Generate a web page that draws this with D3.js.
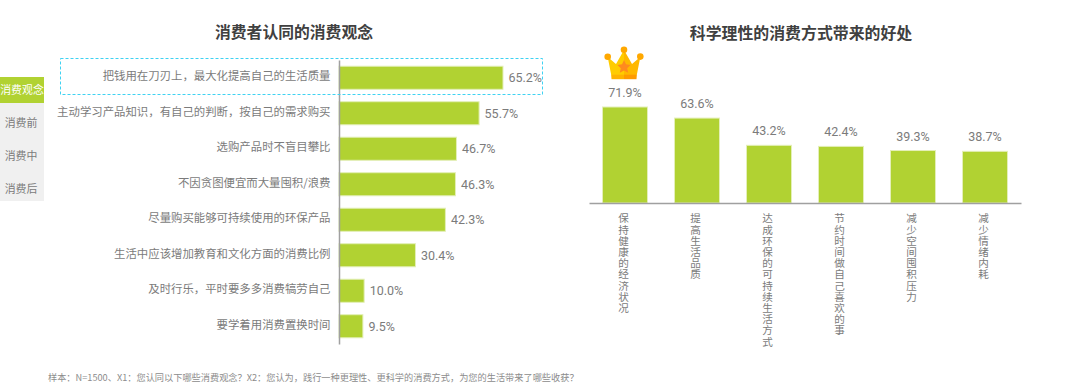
<!DOCTYPE html>
<html>
<head>
<meta charset="utf-8">
<script src="https://cdn.jsdelivr.net/npm/d3@7"></script>
<style>
  html, body { margin: 0; padding: 0; background: #fff; }
  text { font-family: "Noto Sans CJK SC", "Noto Sans", sans-serif; }
  text.value { font-family: Roboto, "Noto Sans", sans-serif; }
</style>
</head>
<body>
<svg id="chart"></svg>
<script>
// Data
const leftTitle = "消费者认同的消费观念";
const rightTitle = "科学理性的消费方式带来的好处";
const tabs = ["消费观念", "消费前", "消费中", "消费后"];
const leftCategories = [
  "把钱用在刀刃上，最大化提高自己的生活质量",
  "主动学习产品知识，有自己的判断，按自己的需求购买",
  "选购产品时不盲目攀比",
  "不因贪图便宜而大量囤积/浪费",
  "尽量购买能够可持续使用的环保产品",
  "生活中应该增加教育和文化方面的消费比例",
  "及时行乐，平时要多多消费犒劳自己",
  "要学着用消费置换时间"
];
const leftValues = [65.2, 55.7, 46.7, 46.3, 42.3, 30.4, 10.0, 9.5];
const rightCategories = [
  "保持健康的经济状况",
  "提高生活品质",
  "达成环保的可持续生活方式",
  "节约时间做自己喜欢的事",
  "减少空间囤积压力",
  "减少情绪内耗"
];
const rightValues = [71.9, 63.6, 43.2, 42.4, 39.3, 38.7];
const footnote = "样本：N=1500、X1：您认同以下哪些消费观念？X2：您认为，践行一种更理性、更科学的消费方式，为您的生活带来了哪些收获？";

const green = "#b1d232";
const barEdge = "#e4efb8";
const textGrey = "#7b7b7b";
const axisGrey = "#a0a0a0";

var svg = d3.select("#chart")
  .attr("width", 1080)
  .attr("height", 386)
  .style("display", "block");

// Side tabs: the labels sit on an even pitch, the backgrounds do not quite follow it
var tabY = d3.scaleBand().domain(tabs).range([74, 206]);
svg.append("rect")
  .attr("x", 0).attr("y", 103).attr("width", 44).attr("height", 98)
  .attr("fill", "#f0f0f0");
svg.append("rect")
  .attr("x", 0).attr("y", 77).attr("width", 44).attr("height", 26)
  .attr("fill", green);
svg.append("g")
  .selectAll("text")
  .data(tabs)
  .join("text")
  .attr("x", (d, i) => i == 0 ? 22 : 21)
  .attr("y", d => tabY(d) + tabY.bandwidth() / 2)
  .attr("dy", "0.35em")
  .attr("text-anchor", "middle")
  .attr("font-size", 10.9)
  .attr("fill", (d, i) => i == 0 ? "#fff" : textGrey)
  .text(d => d);

// Left chart
var xLeft = d3.scaleLinear().domain([0, 65.2]).range([339, 503]);
var yLeft = d3.scaleBand().domain(leftCategories).range([60, 344])
  .paddingInner(0.35).paddingOuter(0.175);

svg.append("text")
  .attr("x", 294).attr("y", 38)
  .attr("text-anchor", "middle")
  .attr("font-size", 15.8).attr("font-weight", 700)
  .attr("fill", "#404040")
  .text(leftTitle);

svg.append("g")
  .selectAll("rect")
  .data(leftValues)
  .join("rect")
  .attr("x", xLeft(0))
  .attr("y", (d, i) => yLeft(leftCategories[i]))
  .attr("width", d => xLeft(d) - xLeft(0))
  .attr("height", yLeft.bandwidth())
  .attr("fill", green)
  .attr("stroke", barEdge);

// Category labels come from the axis, the domain line is the vertical rule
var leftAxis = svg.append("g")
  .attr("transform", "translate(" + xLeft(0) + ",0)")
  .call(d3.axisLeft(yLeft).tickSize(0).tickPadding(8.5));
leftAxis.select(".domain").attr("stroke", axisGrey).attr("stroke-width", 1.5);
leftAxis.selectAll("text")
  .attr("font-family", null)
  .attr("font-size", 11.4)
  .attr("dy", "0.2em")
  .attr("fill", textGrey);

svg.append("g")
  .selectAll("text")
  .data(leftValues)
  .join("text")
  .attr("class", "value")
  .attr("x", d => xLeft(d) + 5.5)
  .attr("y", (d, i) => yLeft(leftCategories[i]) + yLeft.bandwidth() / 2)
  .attr("dy", "0.35em")
  .attr("font-size", 12.5)
  .attr("fill", textGrey)
  .text(d => d.toFixed(1) + "%");

// Highlight box around the first row
svg.append("rect")
  .attr("x", 60.5).attr("y", 58.5)
  .attr("width", 482).attr("height", 36)
  .attr("fill", "none")
  .attr("stroke", "#3fd2f2")
  .attr("stroke-width", 1)
  .attr("stroke-dasharray", "3,2");

// Right chart
var xRight = d3.scaleBand().domain(rightCategories).range([589, 1021])
  .paddingInner(0.375).paddingOuter(0.1875);
var yRight = d3.scaleLinear().domain([0, 71.9]).range([203, 107]);

svg.append("text")
  .attr("x", 801).attr("y", 39)
  .attr("text-anchor", "middle")
  .attr("font-size", 15.9).attr("font-weight", 700)
  .attr("fill", "#404040")
  .text(rightTitle);

svg.append("g")
  .selectAll("rect")
  .data(rightValues)
  .join("rect")
  .attr("x", (d, i) => xRight(rightCategories[i]))
  .attr("y", d => yRight(d))
  .attr("width", xRight.bandwidth())
  .attr("height", d => yRight(0) - yRight(d))
  .attr("fill", green)
  .attr("stroke", barEdge);

var rightAxis = svg.append("g")
  .attr("transform", "translate(0," + yRight(0) + ")")
  .call(d3.axisBottom(xRight).tickSize(0).tickFormat(""));
rightAxis.select(".domain").attr("stroke", axisGrey).attr("stroke-width", 1.5);

svg.append("g")
  .selectAll("text")
  .data(rightValues)
  .join("text")
  .attr("class", "value")
  .attr("x", (d, i) => xRight(rightCategories[i]) + xRight.bandwidth() / 2)
  .attr("y", d => yRight(d) - 10)
  .attr("text-anchor", "middle")
  .attr("font-size", 12.5)
  .attr("fill", textGrey)
  .text(d => d.toFixed(1) + "%");

// Vertical category labels, one character under the other
svg.append("g")
  .selectAll("text")
  .data(rightCategories)
  .join("text")
  .attr("x", d => xRight(d) + xRight.bandwidth() / 2 - 1.5)
  .attr("y", 213)
  .attr("font-size", 10.6)
  .attr("fill", textGrey)
  .style("writing-mode", "vertical-rl")
  .style("text-orientation", "upright")
  .style("letter-spacing", "0.6px")
  .text(d => d);

// Crown over the largest bar
var crown = svg.append("g").attr("transform", "translate(604,47)");
crown.append("path")
  .attr("d", "M3.7,10 L8,32 L20,32 L20,3 L12,17 Z")
  .attr("fill", "#ffcc00");
crown.append("path")
  .attr("d", "M20,3 L28,17 L36.3,10 L32,32 L20,32 Z")
  .attr("fill", "#ffb800");
crown.append("rect")
  .attr("x", 7.5).attr("y", 27.7).attr("width", 12.5).attr("height", 4.5)
  .attr("fill", "#ffb300");
crown.append("rect")
  .attr("x", 20).attr("y", 27.7).attr("width", 12.5).attr("height", 4.5)
  .attr("fill", "#ff9a00");
crown.selectAll("circle")
  .data([[3.7, 9.8], [20, 2.8], [36.3, 9.6]])
  .join("circle")
  .attr("cx", d => d[0])
  .attr("cy", d => d[1])
  .attr("r", 3.3)
  .attr("fill", "#ffa800");
crown.append("path")
  .attr("d", "M20,13 L22,17.3 L26.6,18 L23.2,21.2 L24.2,25.8 L20,23.4 L15.8,25.8 L16.8,21.2 L13.4,18 L18,17.3 Z")
  .attr("fill", "#ff8a1e");

// Footnote
svg.append("text")
  .attr("x", 48).attr("y", 381)
  .attr("font-size", 9.2)
  .attr("fill", "#8c8c8c")
  .text(footnote);
</script>
</body>
</html>
